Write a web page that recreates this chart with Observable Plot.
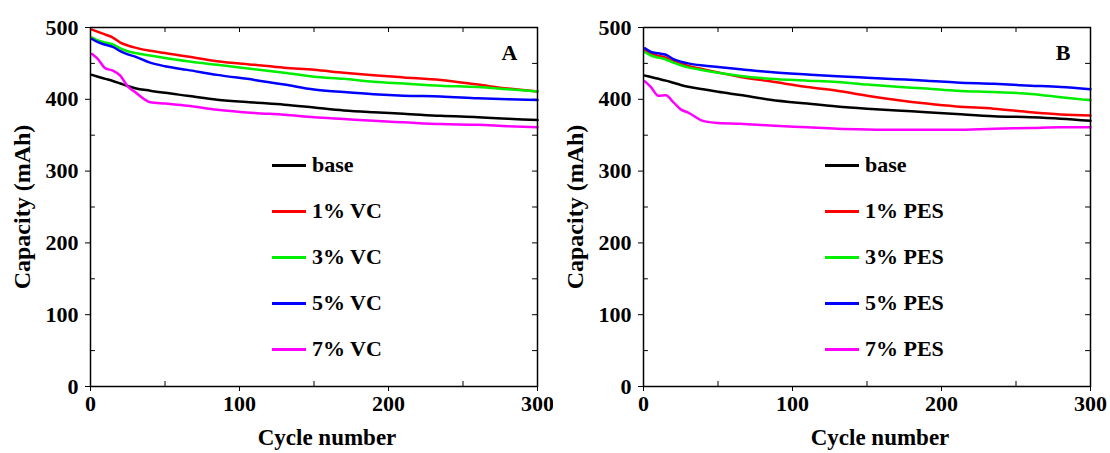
<!DOCTYPE html>
<html>
<head>
<meta charset="utf-8">
<script src="https://cdn.jsdelivr.net/npm/d3@7"></script>
<script src="https://cdn.jsdelivr.net/npm/@observablehq/plot@0.6"></script>
<style>
  html, body { margin: 0; padding: 0; background: #fff; }
  #wrap { position: relative; width: 1110px; height: 453px; font-family: "Liberation Serif", "Times New Roman", serif; }
  .panel { position: absolute; top: 0; }
  .legend { position: absolute; font-weight: bold; font-size: 22px; color: #000; }
  .row { position: absolute; display: flex; align-items: center; white-space: nowrap; transform: translateY(-50%); }
  .swatch { width: 34px; height: 3px; margin-right: 6px; }
</style>
</head>
<body>
<div id="wrap"></div>
<script>
// ---- data ----
const cycles = [1, 5, 10, 15, 20, 25, 30, 40, 50, 65, 85, 110, 130, 150, 170, 190, 210, 235, 260, 280, 300];

// Panel A (VC)
const baseA = [434, 431.5, 428.5, 425.5, 422, 418.5, 415.5, 412, 409, 405, 399.5, 395.5, 392.5, 388.5, 384.5, 382, 380, 377, 375, 373, 371];
const vc1   = [497, 494, 490, 486, 479, 475, 472, 467.5, 464.5, 459.5, 453, 448, 444, 441, 437, 433.5, 430.5, 427, 420.5, 415, 411];
const vc3   = [486, 482, 479, 476.5, 471, 467, 464.5, 461, 457.5, 453, 448, 442, 437, 431.5, 428.5, 424.5, 422, 419, 417, 414, 411];
const vc5   = [484, 479.5, 476, 473, 467, 462.5, 459.5, 451, 446, 441, 434, 427, 420.5, 413.5, 410, 407, 405, 404, 401.5, 400, 399];
const vc7   = [463, 456, 443, 440, 433, 418, 410, 396, 394, 391, 385.5, 381, 378.5, 375, 372.5, 370, 368, 365.5, 364.5, 362.5, 361];

// Panel B (PES)
const baseB = [433, 431, 428.5, 426, 423, 420, 417.5, 414, 410.5, 406, 399.5, 394, 390, 387, 384.5, 382, 379.5, 376.5, 375, 373, 370];
const pes1  = [468, 464, 460.5, 458, 453, 449.5, 446.5, 442, 437.5, 431, 425, 417, 412, 405, 399, 394, 390, 387, 382, 379, 377.5];
const pes3  = [465.5, 461, 458, 455.5, 451, 447.5, 444.5, 440.5, 437, 432.5, 428.5, 426, 424, 420.5, 417.5, 415, 412, 410, 407.5, 403, 398.5];
const pes5  = [471, 466, 464, 462, 456, 452.5, 450, 447, 445, 442, 438, 434.5, 432, 430, 428, 426, 423.5, 421.5, 419, 417, 414];
const pes7  = [425, 417, 405, 405.5, 396, 386, 381.5, 370, 367, 366, 363.5, 361, 359, 358, 357.5, 357.5, 357.5, 359, 360, 361, 361];

const labelsA = ["base", "1% VC", "3% VC", "5% VC", "7% VC"];
const labelsB = ["base", "1% PES", "3% PES", "5% PES", "7% PES"];
const colors = ["#000000", "#ff0000", "#00ee00", "#0000ff", "#ff00ff"];

const xTicks = [0, 100, 200, 300];
const xMinor = [50, 150, 250];
const yTicks = [0, 100, 200, 300, 400, 500];
const yMinor = [50, 150, 250, 350, 450];

function makePanel(seriesList, labels, letter) {
  const rows = [];
  seriesList.forEach((vals, i) => {
    vals.forEach((v, j) => rows.push({cycle: cycles[j], cap: v, s: labels[i]}));
  });
  return Plot.plot({
    width: 555,
    height: 453,
    marginLeft: 90,
    marginRight: 18,
    marginTop: 27,
    marginBottom: 67,
    style: {fontFamily: "'Liberation Serif', 'Times New Roman', serif", fontWeight: "bold", fontSize: "22px", color: "#000", background: "#fff"},
    x: {domain: [0, 300]},
    y: {domain: [0, 500]},
    color: {domain: labels, range: colors},
    marks: [
      Plot.axisX({ticks: xTicks, tickSize: 5, tickPadding: 4, label: null, fontSize: 22}),
      Plot.axisY({ticks: yTicks, tickSize: 5, tickPadding: 7, label: null, fontSize: 22}),
      // inward minor ticks on bottom and left
      Plot.ruleX(xMinor, {y1: 0, y2: 7, stroke: "#000", strokeWidth: 1}),
      Plot.ruleY(yMinor, {x1: 0, x2: 3.3, stroke: "#000", strokeWidth: 1}),
      // inward ticks on top and right frame
      Plot.ruleX(xMinor.concat([100, 200]), {y1: 500, y2: 493, stroke: "#000", strokeWidth: 1}),
      Plot.ruleY(yTicks.concat(yMinor), {x1: 300, x2: 296.7, stroke: "#000", strokeWidth: 1}),
      Plot.lineY(rows, {x: "cycle", y: "cap", stroke: "s", z: "s", strokeWidth: 2.5, curve: "monotone-x"}),
      Plot.frame({stroke: "#000", strokeWidth: 1.5}),
      Plot.text([letter], {frameAnchor: "top-right", dx: -20, dy: 25, textAnchor: "end", lineAnchor: "middle", fontSize: 22, fontWeight: "bold"}),
      Plot.text(["Capacity (mAh)"], {frameAnchor: "left", dx: -68, dy: 0, rotate: -90, textAnchor: "middle", lineAnchor: "middle", fontSize: 24, fontWeight: "bold"}),
      Plot.text(["Cycle number"], {frameAnchor: "bottom", dx: 13, dy: 51, textAnchor: "middle", lineAnchor: "middle", fontSize: 23, fontWeight: "bold"})
    ]
  });
}

function makeLegend(labels, left) {
  const leg = document.createElement("div");
  leg.className = "legend";
  leg.style.left = left + "px";
  leg.style.top = "0px";
  const rowY = [165, 211, 257, 303, 349];
  labels.forEach((lab, i) => {
    const r = document.createElement("div");
    r.className = "row";
    r.style.top = rowY[i] + "px";
    const sw = document.createElement("div");
    sw.className = "swatch";
    sw.style.background = colors[i];
    const t = document.createElement("span");
    t.textContent = lab;
    r.appendChild(sw);
    r.appendChild(t);
    leg.appendChild(r);
  });
  return leg;
}

const wrap = document.getElementById("wrap");
const pA = makePanel([baseA, vc1, vc3, vc5, vc7], labelsA, "A");
pA.classList.add("panel");
pA.style.left = "0px";
const pB = makePanel([baseB, pes1, pes3, pes5, pes7], labelsB, "B");
pB.classList.add("panel");
pB.style.left = "553px";
wrap.appendChild(pA);
wrap.appendChild(pB);
wrap.appendChild(makeLegend(labelsA, 272));
wrap.appendChild(makeLegend(labelsB, 825));
</script>
</body>
</html>
